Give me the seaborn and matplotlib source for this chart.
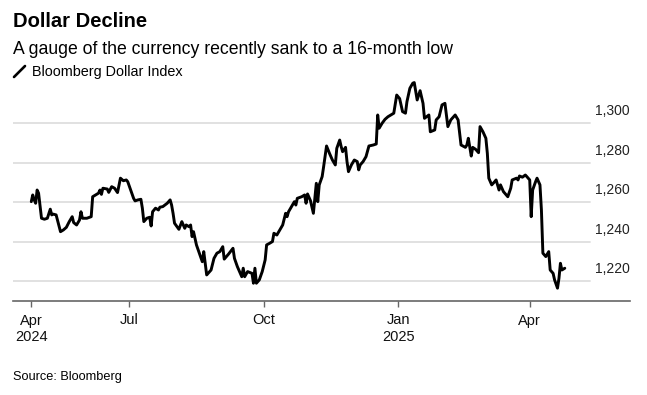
import matplotlib

matplotlib.use("Agg")

import matplotlib.pyplot as plt
import pandas as pd
import seaborn as sns
from matplotlib.lines import Line2D


START_DATE = "2024-04-25"

# calendar days after START_DATE
days_since_start = [
    0, 1, 2, 3, 4, 5, 7, 9, 11, 13, 14, 15, 17, 20, 22, 24, 26, 28, 29, 31,
    33, 34, 35, 38, 41, 42, 44, 46, 47, 48, 49, 52, 53, 55, 57, 59, 61, 63, 65, 66,
    68, 70, 71, 73, 75, 76, 77, 79, 81, 82, 83, 85, 87, 88, 90, 93, 95, 96, 97, 98,
    101, 103, 105, 106, 108, 109, 110, 111, 113, 115, 117, 118, 120, 122, 123, 125, 127, 129, 131, 132,
    135, 138, 139, 141, 143, 144, 145, 146, 148, 151, 152, 153, 154, 156, 158, 160, 161, 163, 165, 166,
    168, 170, 172, 174, 175, 176, 178, 180, 181, 182, 185, 187, 188, 189, 191, 193, 195, 196, 197, 199,
    200, 202, 204, 206, 208, 209, 211, 212, 213, 215, 216, 217, 219, 221, 223, 224, 225, 227, 229, 231,
    234, 236, 237, 238, 240, 242, 244, 248, 250, 252, 254, 256, 257, 259, 261, 262, 264, 266, 268, 269,
    272, 273, 276, 277, 279, 281, 283, 285, 287, 290, 292, 294, 297, 298, 299, 301, 302, 304, 306, 307,
    309, 311, 312, 313, 315, 317, 318, 320, 321, 323, 326, 328, 329, 332, 333, 334, 336, 338, 339, 341,
    342, 343, 345, 346, 348, 349, 350, 352, 354, 355, 357, 358, 360, 361, 362, 363, 365,
]

index_values = [
    1260.3, 1263.7, 1261.2, 1259.5, 1266.2, 1264.6, 1251.9, 1251.4, 1251.9, 1256.5,
    1253.6, 1254.0, 1253.6, 1245.1, 1246.0, 1247.3, 1250.2, 1252.7, 1249.7, 1248.5,
    1251.0, 1255.2, 1251.9, 1251.9, 1252.7, 1262.8, 1263.7, 1264.6, 1266.2, 1264.0,
    1267.1, 1266.7, 1265.0, 1267.9, 1267.1, 1264.9, 1272.2, 1270.9, 1271.3, 1270.4,
    1266.2, 1262.0, 1260.7, 1261.2, 1261.5, 1257.0, 1250.2, 1251.9, 1252.4, 1248.0,
    1255.2, 1257.0, 1256.1, 1257.5, 1257.8, 1259.5, 1261.2, 1258.6, 1254.4, 1249.4,
    1246.3, 1250.2, 1246.8, 1248.5, 1247.6, 1248.5, 1242.6, 1245.1, 1238.4, 1234.2,
    1229.9, 1235.0, 1223.2, 1224.9, 1225.7, 1231.6, 1234.2, 1235.0, 1237.5, 1231.2,
    1233.8, 1236.7, 1231.6, 1227.4, 1224.0, 1222.3, 1226.6, 1222.3, 1224.9, 1224.0,
    1219.0, 1226.6, 1219.0, 1220.7, 1224.9, 1230.8, 1238.4, 1239.2, 1240.1, 1244.3,
    1243.4, 1246.0, 1248.5, 1254.4, 1252.7, 1255.2, 1257.8, 1260.3, 1258.6, 1262.0,
    1262.8, 1263.7, 1259.5, 1264.2, 1260.8, 1254.4, 1269.6, 1260.3, 1268.8, 1273.0,
    1278.0, 1288.5, 1284.8, 1281.4, 1278.9, 1287.3, 1291.5, 1288.2, 1285.6, 1287.8,
    1280.6, 1275.5, 1278.9, 1281.4, 1280.6, 1276.4, 1278.9, 1280.6, 1283.1, 1288.5,
    1289.0, 1289.5, 1304.2, 1297.5, 1300.0, 1302.0, 1303.3, 1305.1, 1314.3, 1312.5,
    1305.9, 1305.1, 1310.9, 1317.7, 1320.3, 1320.6, 1311.8, 1316.5, 1310.1, 1302.5,
    1304.2, 1295.7, 1296.6, 1301.7, 1303.3, 1309.3, 1310.1, 1298.3, 1301.7, 1304.2,
    1301.7, 1289.0, 1287.8, 1289.0, 1292.4, 1283.4, 1287.8, 1286.8, 1285.1, 1298.3,
    1295.7, 1292.4, 1284.8, 1272.2, 1268.8, 1270.4, 1271.3, 1266.2, 1268.8, 1265.4,
    1262.8, 1267.1, 1271.3, 1272.2, 1271.3, 1273.3, 1272.7, 1273.8, 1273.0, 1271.3,
    1252.7, 1266.2, 1270.4, 1272.2, 1268.8, 1256.1, 1234.2, 1232.5, 1235.0, 1225.7,
    1224.0, 1220.7, 1216.5, 1221.5, 1229.1, 1225.7, 1226.6,
]

tick_dates = ["2024-04-25", "2024-07-01", "2024-10-01", "2025-01-01", "2025-04-01"]
tick_labels = ["Apr\n2024", "Jul", "Oct", "Jan\n2025", "Apr"]

y_ticks = [1220, 1240, 1260, 1280, 1300]
y_labels = ["1,220", "1,240", "1,260", "1,280", "1,300"]

TITLE = "Dollar Decline"
SUBTITLE = "A gauge of the currency recently sank to a 16-month low"
SERIES_NAME = "Bloomberg Dollar Index"
SOURCE = "Source: Bloomberg"

W, H = 647, 395

sns.set_theme(style="white")
plt.rcParams["font.family"] = ["Liberation Sans", "DejaVu Sans"]

df = pd.DataFrame({
    "date": pd.Timestamp(START_DATE) + pd.to_timedelta(days_since_start, unit="D"),
    "value": index_values,
})

fig = plt.figure(figsize=(W / 100, H / 100), dpi=100)
ax = fig.add_axes([13 / W, (H - 301) / H, 617 / W, 227.1 / H])

start = pd.Timestamp(START_DATE)
ax.set_xlim(start - pd.Timedelta(days=12.5), start + pd.Timedelta(days=409.6))
ax.set_ylim(1210, 1325)

grid_end = (590 - 13) / 617
for v, lab in zip(y_ticks, y_labels):
    ax.axhline(v, xmin=0, xmax=grid_end, color="#dedede", lw=1.3, zorder=0)
    ax.annotate(lab, xy=(1.0, v), xycoords=("axes fraction", "data"),
                xytext=(0, 5.6), textcoords="offset points",
                ha="right", va="baseline", fontsize=10, color="#222222")

sns.lineplot(data=df, x="date", y="value", ax=ax, color="black",
             linewidth=2.1, legend=False)
for line in ax.get_lines():
    line.set_solid_joinstyle("round")

ax.set_yticks([])
ax.set_xticks(pd.to_datetime(tick_dates))
ax.set_xticklabels(tick_labels, fontsize=10.5, color="#111111", linespacing=1.25)
ax.tick_params(axis="x", length=4, width=1, color="#666666", pad=5, bottom=True)
ax.set_xlabel("")
ax.set_ylabel("")

for side in ["top", "right", "left"]:
    ax.spines[side].set_visible(False)
ax.spines["bottom"].set_color("#666666")
ax.spines["bottom"].set_linewidth(1.2)

fig.text(13 / W, (H - 27) / H, TITLE, fontsize=14.5, fontweight="bold",
         va="baseline", ha="left", color="black")
fig.text(13 / W, (H - 53.5) / H, SUBTITLE, fontsize=12.7,
         va="baseline", ha="left", color="black")
fig.add_artist(Line2D([14 / W, 25 / W], [(H - 77) / H, (H - 66) / H],
                      color="black", lw=1.9))
fig.text(32 / W, (H - 76) / H, SERIES_NAME, fontsize=10.4,
         va="baseline", ha="left", color="black")
fig.text(13 / W, (H - 380) / H, SOURCE, fontsize=9.2,
         va="baseline", ha="left", color="black")

fig.savefig("out.png", dpi=100)
